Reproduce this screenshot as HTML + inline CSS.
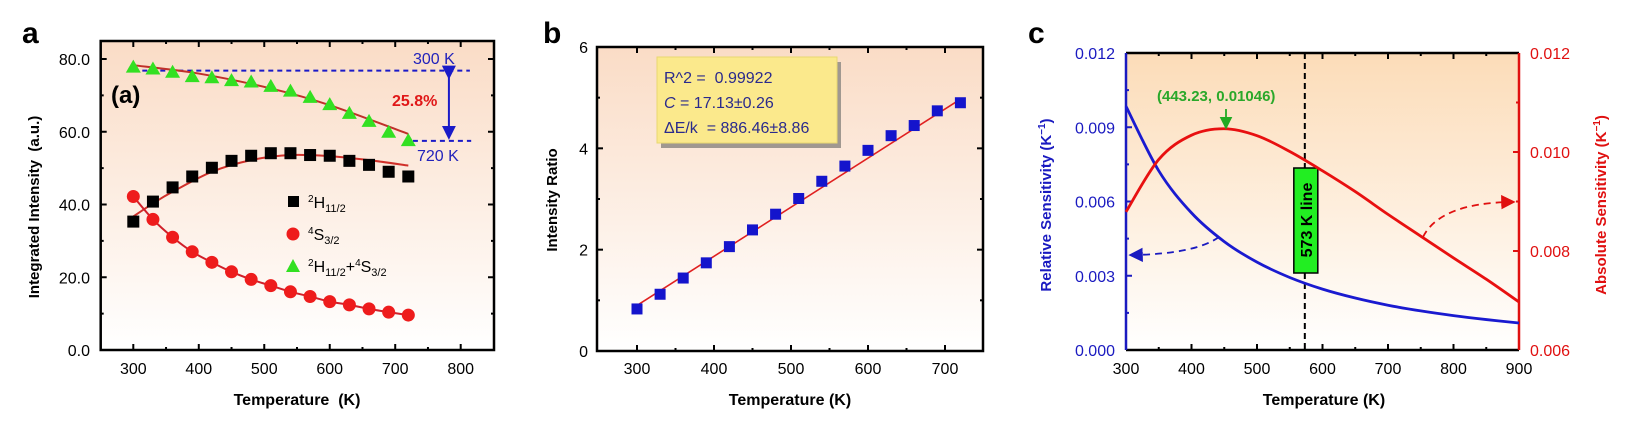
<!DOCTYPE html>
<html><head><meta charset="utf-8">
<style>
html,body{margin:0;padding:0;background:#fff;}
svg{display:block;font-family:"Liberation Sans",Arial,sans-serif;}
text{white-space:pre;}
</style></head>
<body>
<svg id="fig" width="1637" height="425" viewBox="0 0 1637 425" xmlns="http://www.w3.org/2000/svg">
<defs>
<linearGradient id="bgA" x1="0" y1="0" x2="0" y2="1"><stop offset="0" stop-color="#fadcc6"/><stop offset="1" stop-color="#ffffff"/></linearGradient>
<linearGradient id="bgC" x1="0" y1="0" x2="0" y2="1"><stop offset="0" stop-color="#fcdcb8"/><stop offset="1" stop-color="#ffffff"/></linearGradient>
<marker id="arB" markerWidth="8" markerHeight="8" refX="6" refY="4" orient="auto"><path d="M0,0 L8,4 L0,8 z" fill="#1a1ac0"/></marker>
<marker id="arR" markerWidth="8" markerHeight="8" refX="6" refY="4" orient="auto"><path d="M0,0 L8,4 L0,8 z" fill="#e01010"/></marker>
<marker id="arN" markerWidth="7" markerHeight="7" refX="5" refY="3.5" orient="auto"><path d="M0,0 L7,3.5 L0,7 z" fill="#1a1ac8"/></marker>
<marker id="arG" markerWidth="7" markerHeight="7" refX="5" refY="3.5" orient="auto"><path d="M0,0 L7,3.5 L0,7 z" fill="#22aa22"/></marker>
</defs>
</svg>
<script>
// ---------- Panel a data ----------
const aTemps = [300,330,360,390,420,450,480,510,540,570,600,630,660,690,720];
const aH = [35.3,40.8,44.7,47.7,50.1,52.0,53.4,54.1,54.1,53.6,53.4,52.0,50.9,49.0,47.7];
const aS = [42.2,35.9,31.0,27.0,24.1,21.5,19.4,17.7,16.0,14.7,13.3,12.4,11.3,10.4,9.6];
const aSum = [77.9,77.4,76.5,75.3,75.0,74.2,73.8,72.6,71.3,69.6,67.6,65.2,63.0,60.0,57.7];
const aHFitT = [300,330,360,420,480,540,600,660,720];
const aHFit = [36.7,40.3,43.5,49.0,52.2,53.6,53.3,52.2,50.7];
const aSumFitT = [300,400,510,600,720];
const aSumFit = [78.3,76.0,71.9,67.3,59.4];
const aXTicks = [300,400,500,600,700,800];
const aYTicks = [0,20,40,60,80];
const aRef300 = 76.8, aRef720 = 57.5;
// ---------- Panel b data ----------
const bTemps = [300,330,360,390,420,450,480,510,540,570,600,630,660,690,720];
const bRatio = [0.83,1.12,1.44,1.74,2.06,2.39,2.70,3.01,3.35,3.65,3.96,4.25,4.45,4.74,4.90];
const bFitT = [300,720];
const bFit = [0.90,4.97];
const bXTicks = [300,400,500,600,700];
const bYTicks = [0,2,4,6];
// ---------- Panel c data ----------
const cTemps = [300,350,400,450,500,550,600,650,700,750,800,850,900];
const cRel = [0.00985,0.00724,0.00554,0.00438,0.00355,0.00293,0.00246,0.00210,0.00181,0.00158,0.00139,0.00123,0.00109];
const cAbs = [0.00879,0.00985,0.01034,0.01047,0.01033,0.01001,0.00962,0.00920,0.00874,0.00830,0.00786,0.00743,0.00697];
const cXTicks = [300,400,500,600,700,800,900];
const cLTicks = [0,0.003,0.006,0.009,0.012];
const cRTicks = [0.006,0.008,0.010,0.012];
const cLineT = 573;

const svg = document.getElementById('fig');
const NS = 'http://www.w3.org/2000/svg';
function el(tag, attrs, parent){const e=document.createElementNS(NS,tag);for(const k in attrs)e.setAttribute(k,attrs[k]);(parent||svg).appendChild(e);return e;}
function txt(s, attrs, parent){const e=el('text',attrs,parent);e.textContent=s;return e;}
function lin(x0,x1,p0,p1){return v=>p0+(v-x0)/(x1-x0)*(p1-p0);}
function smooth(pts){let d='M'+pts[0][0]+','+pts[0][1];for(let i=0;i<pts.length-1;i++){const p0=pts[i-1]||pts[i],p1=pts[i],p2=pts[i+1],p3=pts[i+2]||p2;const c1=[p1[0]+(p2[0]-p0[0])/6,p1[1]+(p2[1]-p0[1])/6],c2=[p2[0]-(p3[0]-p1[0])/6,p2[1]-(p3[1]-p1[1])/6];d+=' C'+c1[0]+','+c1[1]+' '+c2[0]+','+c2[1]+' '+p2[0]+','+p2[1];}return d;}

// ================= PANEL A =================
{
const g = el('g',{});


const L=100.7,R=494,T=41,B=350;
const x=lin(300,800,133.3,460.7), y=lin(0,80,350,59);
const bg=el('rect',{x:L,y:T,width:R-L,height:B-T,fill:'url(#bgA)'},g);


const lab=txt('a',{x:22,y:43,'font-size':30,'font-weight':'bold'},g);


for(let v=250;v<=850;v+=50){const major=v%100===0;const xx=x(v);if(xx<L+1||xx>R-1)continue;
 el('line',{x1:xx,x2:xx,y1:B,y2:B-(major?6:3),stroke:'#000','stroke-width':2},g);
 el('line',{x1:xx,x2:xx,y1:T,y2:T+(major?6:3),stroke:'#000','stroke-width':2},g);}
for(let v=10;v<=80;v+=10){const major=v%20===0;const yy=y(v);
 el('line',{x1:L,x2:L+(major?6:3),y1:yy,y2:yy,stroke:'#000','stroke-width':2},g);
 el('line',{x1:R,x2:R-(major?6:3),y1:yy,y2:yy,stroke:'#000','stroke-width':2},g);}
aXTicks.forEach(v=>{const t=txt(String(v),{x:x(v),y:374,'font-size':16,'text-anchor':'middle'},g);
 
 });
aYTicks.forEach(v=>{const t=txt(v.toFixed(1),{x:90,y:y(v)+6,'font-size':16,'text-anchor':'end'},g);
 
 });
const fr=el('rect',{x:L,y:T,width:R-L,height:B-T,fill:'none',stroke:'#000','stroke-width':2.5},g);


const xt=txt('Temperature  (K)',{x:297,y:405,'font-size':16,'font-weight':'bold','text-anchor':'middle'},g);


const yt=txt('Integrated Intensity  (a.u.)',{x:0,y:0,'font-size':15,'font-weight':'bold','text-anchor':'middle',transform:'translate(39,207) rotate(-90)'},g);


const d1=el('line',{x1:x(300),x2:x(814),y1:y(aRef300),y2:y(aRef300),stroke:'#1a1ac8','stroke-width':2,'stroke-dasharray':'5,4'},g);


const d2=el('line',{x1:x(727),x2:x(816),y1:y(aRef720),y2:y(aRef720),stroke:'#1a1ac8','stroke-width':2,'stroke-dasharray':'5,4'},g);


const ar=el('line',{x1:x(782),x2:x(782),y1:y(aRef300)+5,y2:y(aRef720)-5,stroke:'#1a1ac8','stroke-width':2,'marker-end':'url(#arN)','marker-start':'url(#arN)'},g);


const t1=txt('300 K',{x:413,y:64,'font-size':16,fill:'#2222bb'},g);


const t2=txt('720 K',{x:417,y:161,'font-size':16,fill:'#2222bb'},g);


const t3=txt('25.8%',{x:392,y:106,'font-size':16,'font-weight':'bold',fill:'#e01818'},g);


const t4=txt('(a)',{x:111,y:103,'font-size':24,'font-weight':'bold'},g);


const f1=el('path',{d:smooth(aSumFitT.map((t,i)=>[x(t),y(aSumFit[i])])),fill:'none',stroke:'#c0302a','stroke-width':2},g);


const f2=el('path',{d:smooth(aHFitT.map((t,i)=>[x(t),y(aHFit[i])])),fill:'none',stroke:'#d0302a','stroke-width':2},g);


const f3=el('path',{d:smooth(aTemps.map((t,i)=>[x(t),y(aS[i])])),fill:'none',stroke:'#d0202a','stroke-width':2},g);


aTemps.forEach((t,i)=>{
 const s=el('rect',{x:x(t)-6,y:y(aH[i])-6,width:12,height:12,fill:'#000'},g);
 
 
 const c=el('circle',{cx:x(t),cy:y(aS[i]),r:6.5,fill:'#ee1c1c'},g);
 
 
 const X=x(t),Y=y(aSum[i]);
 const tr=el('polygon',{points:`${X},${Y-7} ${X-7.5},${Y+6} ${X+7.5},${Y+6}`,fill:'#33e022'},g);
 
 
});
const lg=el('g',{},g);


el('rect',{x:288,y:196,width:11,height:11,fill:'#000'},lg);
const l1=txt('',{x:308,y:208,'font-size':16},lg);
l1.innerHTML='<tspan dy="-6" font-size="10">2</tspan><tspan dy="6">H</tspan><tspan dy="4" font-size="11">11/2</tspan>';


el('circle',{cx:293,cy:234,r:6.5,fill:'#ee1c1c'},lg);
const l2=txt('',{x:308,y:240,'font-size':16},lg);
l2.innerHTML='<tspan dy="-6" font-size="10">4</tspan><tspan dy="6">S</tspan><tspan dy="4" font-size="11">3/2</tspan>';


el('polygon',{points:'293,259 286,272 300,272',fill:'#33e022'},lg);
const l3=txt('',{x:308,y:272,'font-size':16},lg);
l3.innerHTML='<tspan dy="-6" font-size="10">2</tspan><tspan dy="6">H</tspan><tspan dy="4" font-size="11">11/2</tspan><tspan dy="-4">+</tspan><tspan dy="-6" font-size="10">4</tspan><tspan dy="6">S</tspan><tspan dy="4" font-size="11">3/2</tspan>';


}

// ================= PANEL B =================
{
const g = el('g',{});


const L=597,R=983,T=47,B=351;
const x=lin(250,750,598.5,983.5), y=lin(0,6,351,47);
const bg=el('rect',{x:L,y:T,width:R-L,height:B-T,fill:'url(#bgA)'},g);


const lab=txt('b',{x:543,y:43,'font-size':30,'font-weight':'bold'},g);


for(let v=300;v<=700;v+=50){const major=v%100===0;const xx=x(v);
 el('line',{x1:xx,x2:xx,y1:B,y2:B-(major?6:3),stroke:'#000','stroke-width':2},g);
 el('line',{x1:xx,x2:xx,y1:T,y2:T+(major?6:3),stroke:'#000','stroke-width':2},g);}
for(let v=1;v<=5;v++){const major=v%2===0;const yy=y(v);
 el('line',{x1:L,x2:L+(major?6:3),y1:yy,y2:yy,stroke:'#000','stroke-width':2},g);
 el('line',{x1:R,x2:R-(major?6:3),y1:yy,y2:yy,stroke:'#000','stroke-width':2},g);}
bXTicks.forEach(v=>{const t=txt(String(v),{x:x(v),y:374,'font-size':16,'text-anchor':'middle'},g);
 
 });
bYTicks.forEach(v=>{const t=txt(String(v),{x:588,y:y(v)+6,'font-size':16,'text-anchor':'end'},g);
 
 });
const fr=el('rect',{x:L,y:T,width:R-L,height:B-T,fill:'none',stroke:'#000','stroke-width':2.5},g);


const xt=txt('Temperature (K)',{x:790,y:405,'font-size':16,'font-weight':'bold','text-anchor':'middle'},g);


const yt=txt('Intensity Ratio',{x:0,y:0,'font-size':15,'font-weight':'bold','text-anchor':'middle',transform:'translate(557,200) rotate(-90)'},g);


const sh=el('rect',{x:661,y:62,width:180,height:86,fill:'#a09890'},g);


const bx=el('rect',{x:657,y:57,width:180,height:86,fill:'#fbe98c',stroke:'#e8d870','stroke-width':1},g);


const s1=txt('R^2 =\u00a0\u00a00.99922',{x:664,y:83,'font-size':16,fill:'#2a2a8c'},g);


const s2=txt('',{x:664,y:108,'font-size':16,fill:'#2a2a8c'},g);
s2.innerHTML='<tspan font-style="italic">C</tspan> = 17.13±0.26';


const s3=txt('ΔE/k\u00a0\u00a0= 886.46±8.86',{x:664,y:133,'font-size':16,fill:'#2a2a8c'},g);


const fl=el('line',{x1:x(bFitT[0]),y1:y(bFit[0]),x2:x(bFitT[1]),y2:y(bFit[1]),stroke:'#e02020','stroke-width':1.6},g);


bTemps.forEach((t,i)=>{
 const s=el('rect',{x:x(t)-5.5,y:y(bRatio[i])-5.5,width:11,height:11,fill:'#1414cc'},g);
 
 
});
}

// ================= PANEL C =================
{
const g = el('g',{});


const L=1126,R=1519,T=53,B=350;
const x=lin(300,900,L,R), yl=lin(0,0.012,B,T), yr=lin(0.006,0.012,B,T);
const bg=el('rect',{x:L,y:T,width:R-L,height:B-T,fill:'url(#bgC)'},g);


const lab=txt('c',{x:1028,y:43,'font-size':30,'font-weight':'bold'},g);


for(let v=350;v<=850;v+=50){const major=v%100===0;const xx=x(v);
 el('line',{x1:xx,x2:xx,y1:B,y2:B-(major?6:3),stroke:'#000','stroke-width':2},g);
 el('line',{x1:xx,x2:xx,y1:T,y2:T+(major?6:3),stroke:'#000','stroke-width':2},g);}
for(let v=0.0015;v<0.012;v+=0.0015){const major=Math.abs(v/0.003-Math.round(v/0.003))<1e-6;const yy=yl(v);
 el('line',{x1:L,x2:L+(major?6:3),y1:yy,y2:yy,stroke:'#1a1ac0','stroke-width':2},g);}
for(let v=0.007;v<0.012;v+=0.001){const major=Math.round(v*1000)%2===0;const yy=yr(v);
 el('line',{x1:R,x2:R-(major?6:3),y1:yy,y2:yy,stroke:'#e01010','stroke-width':2},g);}
cXTicks.forEach(v=>{const t=txt(String(v),{x:x(v),y:374,'font-size':16,'text-anchor':'middle'},g);
 
 });
cLTicks.forEach(v=>{const t=txt(v.toFixed(3),{x:1115,y:yl(v)+6,'font-size':16,'text-anchor':'end',fill:'#1a1ac0'},g);
 
 });
cRTicks.forEach(v=>{const t=txt(v.toFixed(3),{x:1530,y:yr(v)+6,'font-size':16,fill:'#e01010'},g);
 
 });
const ax1=el('line',{x1:L,x2:R,y1:T,y2:T,stroke:'#000','stroke-width':2.5},g);


const ax2=el('line',{x1:L,x2:R,y1:B,y2:B,stroke:'#000','stroke-width':2.5},g);


const ax3=el('line',{x1:L,x2:L,y1:T,y2:B,stroke:'#1a1ac0','stroke-width':2.5},g);


const ax4=el('line',{x1:R,x2:R,y1:T,y2:B,stroke:'#e01010','stroke-width':2.5},g);


const xt=txt('Temperature (K)',{x:1324,y:405,'font-size':16,'font-weight':'bold','text-anchor':'middle'},g);


const yt=txt('',{x:0,y:0,'font-size':15,'font-weight':'bold','text-anchor':'middle',fill:'#1a1ac0',transform:'translate(1051,205) rotate(-90)'},g);
yt.innerHTML='Relative Sensitivity (K<tspan dy="-6" font-size="10">−1</tspan><tspan dy="6">)</tspan>';


const yt2=txt('',{x:0,y:0,'font-size':15,'font-weight':'bold','text-anchor':'middle',fill:'#e01010',transform:'translate(1606,205) rotate(-90)'},g);
yt2.innerHTML='Absolute Sensitivity (K<tspan dy="-6" font-size="10">−1</tspan><tspan dy="6">)</tspan>';


const vl=el('line',{x1:x(cLineT),x2:x(cLineT),y1:T,y2:B,stroke:'#000','stroke-width':2,'stroke-dasharray':'6,4'},g);


const gb=el('rect',{x:x(cLineT)-11,y:168,width:24,height:105,fill:'#22ee22',stroke:'#000','stroke-width':1.5},g);


const gt=txt('573 K line',{x:0,y:0,'font-size':16,'font-weight':'bold','text-anchor':'middle',transform:`translate(${x(cLineT)+7},220) rotate(-90)`},g);


const cb=el('path',{d:smooth(cTemps.map((t,i)=>[x(t),yl(cRel[i])])),fill:'none',stroke:'#1a1ad0','stroke-width':2.8},g);


const cr=el('path',{d:smooth(cTemps.map((t,i)=>[x(t),yr(cAbs[i])])),fill:'none',stroke:'#e81010','stroke-width':2.8},g);


const pa=el('path',{d:'M1219,237 Q1195,254 1132,255',fill:'none',stroke:'#1a1ac0','stroke-width':1.8,'stroke-dasharray':'7,5','marker-end':'url(#arB)'},g);


const pb=el('path',{d:'M1423,237 Q1440,203 1512,202',fill:'none',stroke:'#e01010','stroke-width':1.8,'stroke-dasharray':'7,5','marker-end':'url(#arR)'},g);


const pk=txt('(443.23, 0.01046)',{x:1157,y:101,'font-size':15,'font-weight':'bold',fill:'#2aa82a'},g);


const pka=el('line',{x1:1226,x2:1226,y1:109,y2:126,stroke:'#22aa22','stroke-width':1.8,'marker-end':'url(#arG)'},g);


}
</script>
</body></html>
